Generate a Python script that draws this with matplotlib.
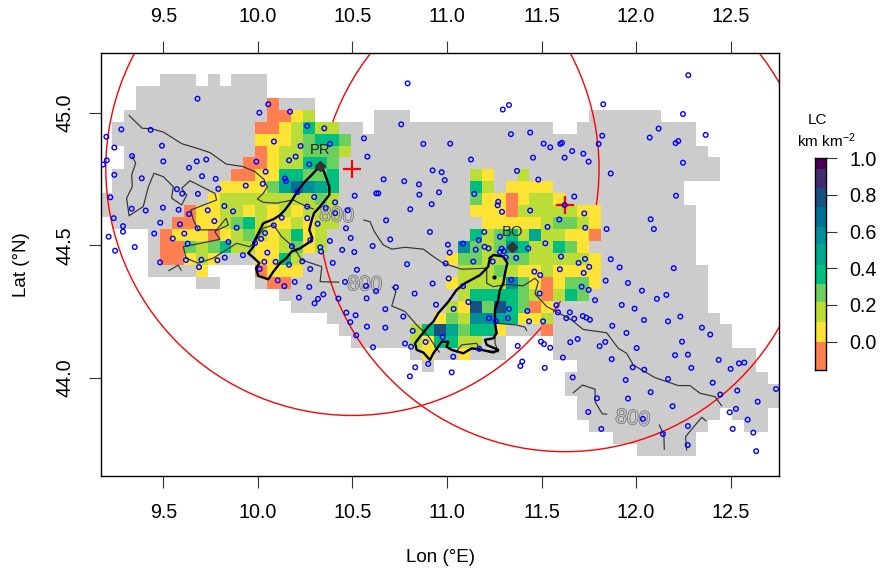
import numpy as np
import matplotlib
matplotlib.use("Agg")
import matplotlib.pyplot as plt
import matplotlib.patheffects as pe
from matplotlib.colors import ListedColormap, BoundaryNorm
from matplotlib.patches import Ellipse

plt.rcParams['font.family'] = ['Liberation Sans', 'DejaVu Sans']
plt.rcParams['mathtext.default'] = 'regular'

# grid of the LC field
grid_lon0, grid_dlon = 9.167, 0.06303
grid_lat0, grid_dlat = 45.1486, 0.04512
n_rows, n_cols = 32, 57

# grey land cells, (first col, last col) per row
land_runs = [
    [(5, 7), (9, 9), (11, 13)], [(3, 13)], [(3, 17)],
    [(2, 17), (23, 25), (41, 46)], [(1, 21), (23, 37), (40, 49)],
    [(1, 49)], [(2, 50)], [(2, 51)], [(1, 51)], [(1, 48)], [(0, 48)],
    [(0, 49)], [(1, 49)], [(4, 49)], [(4, 49)], [(4, 49)],
    [(4, 8), (13, 50)], [(8, 9), (13, 50)], [(15, 50)], [(16, 50)],
    [(19, 51)], [(20, 52)], [(21, 33), (38, 52)], [(26, 33), (38, 54)],
    [(27, 27), (40, 54)], [(39, 55)], [(39, 56)], [(40, 56)],
    [(40, 51), (53, 55)], [(41, 50), (54, 55)], [(43, 49)], [(45, 49)],
]

# colour class of each LC cell: (row, first col, classes)
lc_cells = [
    (2, 14, "0"), (3, 14, "0012"), (4, 13, "0012422"), (5, 13, "11123443"),
    (6, 13, "01223332"), (7, 12, "00122443"), (8, 11, "001144334"),
    (8, 31, "21"), (8, 35, "2"), (9, 10, "1111357654"), (9, 31, "42"),
    (9, 34, "1111"), (10, 9, "12222222232"), (10, 31, "31101221"),
    (11, 7, "0112212121222"), (11, 31, "11102222211"),
    (12, 6, "00112342112122"), (12, 32, "1111123321"),
    (13, 5, "01110123212412"), (13, 31, "42342522110"),
    (14, 5, "00323422112312"), (14, 30, "63236422431"),
    (15, 5, "00121"), (15, 13, "1142"), (15, 29, "1332233222221"),
    (16, 8, "1"), (16, 13, "0111"), (16, 30, "222321121111"),
    (17, 14, "00"), (17, 29, "1222263101331"), (18, 30, "24444320243"),
    (19, 29, "218384301"), (20, 28, "1326654112"), (21, 26, "24853441"),
    (21, 37, "0"), (22, 26, "214422"), (23, 27, "1"), (23, 30, "1"),
]

lc_breaks = [-0.155, 0.0, 0.107, 0.216, 0.315, 0.42, 0.53, 0.627, 0.733, 0.84, 0.94, 1.0]
lc_colors = ["#FF7F50", "#FDE333", "#BBDD38", "#6CD05E", "#00BE7D", "#00A890",
             "#008E98", "#007094", "#185086", "#422C70", "#4B0055"]

# rain gauges
station_lon = [
    9.199, 9.278, 9.433, 9.493, 9.241, 9.335, 9.201, 9.181, 9.500, 9.677, 9.241, 9.636, 9.386, 9.572,
    9.600, 9.220, 9.683, 9.333, 9.407, 9.498, 9.581, 9.238, 9.636, 9.287, 9.287, 9.484, 9.588, 9.682,
    9.211, 9.452, 9.611, 9.550, 9.629, 9.349, 9.245, 9.483, 9.620, 9.681, 10.055, 10.008, 10.170, 10.261,
    10.351, 10.085, 10.226, 10.381, 10.561, 10.579, 9.992, 10.165, 10.200, 10.272, 9.727, 9.705, 9.777,
    10.041, 10.143, 10.149, 9.936, 10.026, 9.791, 10.209, 10.298, 10.408, 10.512, 10.626, 10.637, 10.665,
    10.261, 10.359, 10.475, 10.409, 9.823, 9.735, 9.869, 10.126, 10.261, 10.678, 9.770, 10.316, 10.084,
    9.888, 10.466, 10.038, 10.017, 10.491, 10.700, 9.844, 9.985, 10.381, 10.277, 10.607, 10.180, 10.330,
    10.334, 10.446, 10.510, 10.050, 9.921, 9.825, 9.786, 9.701, 10.034, 10.094, 10.165, 10.235, 10.396,
    9.689, 10.010, 10.277, 10.524, 10.105, 10.195, 10.140, 10.272, 10.461, 10.572, 10.730, 10.346, 10.625,
    10.217, 10.318, 10.575, 10.426, 10.300, 10.789, 10.829, 10.674, 10.468, 10.517, 10.769, 10.489, 10.577,
    10.674, 10.819, 10.520, 10.609, 10.778, 10.810, 10.887, 10.901, 10.832, 10.804, 10.774, 10.852, 10.988,
    10.924, 10.972, 10.854, 10.958, 10.919, 10.806, 10.910, 11.005, 11.085, 11.014, 10.993, 11.009, 10.924,
    11.085, 11.127, 11.455, 11.622, 11.662, 11.721, 11.749, 11.866, 11.370, 11.483, 11.144, 11.271, 11.268,
    11.291, 11.440, 11.673, 11.622, 11.726, 11.594, 11.532, 11.731, 11.844, 11.197, 11.280, 11.168, 11.520,
    11.199, 11.220, 11.152, 11.289, 11.300, 11.280, 11.430, 11.139, 11.242, 11.310, 11.366, 11.603, 11.730,
    11.696, 11.866, 11.752, 11.913, 11.597, 11.462, 11.493, 11.723, 11.839, 11.957, 11.340, 11.712, 11.749,
    11.490, 11.783, 11.924, 11.113, 10.942, 11.035, 11.328, 11.425, 11.579, 11.587, 11.650, 11.718, 11.737,
    11.756, 11.631, 11.673, 11.222, 11.258, 11.323, 11.434, 11.508, 11.874, 11.949, 10.977, 11.171, 11.497,
    11.513, 11.546, 11.374, 11.652, 11.691, 11.837, 11.807, 11.613, 11.871, 11.398, 11.388, 11.517, 11.033,
    11.025, 11.665, 10.792, 11.328, 11.295, 10.758, 10.875, 11.017, 11.338, 11.440, 11.511, 11.546, 11.599,
    11.608, 11.802, 12.276, 11.826, 12.248, 12.119, 12.072, 11.821, 12.223, 12.209, 12.368, 12.248, 12.211,
    12.077, 12.094, 12.199, 12.031, 12.160, 12.110, 11.992, 12.042, 12.169, 12.234, 12.348, 12.392, 12.243,
    12.003, 12.206, 12.274, 12.437, 12.544, 12.572, 12.500, 12.292, 11.982, 12.043, 11.945, 12.169, 12.405,
    12.535, 12.740, 12.077, 12.445, 11.793, 11.957, 12.643, 12.193, 12.528, 12.495, 11.747, 12.036, 12.590,
    12.274, 11.816, 12.511, 12.620, 12.142, 12.273, 12.635,
]
station_lat = [
    44.911, 44.939, 44.937, 44.877, 44.870, 44.838, 44.822, 44.806, 44.818, 44.818, 44.767, 44.794, 44.754, 44.713,
    44.696, 44.682, 44.695, 44.639, 44.632, 44.643, 44.635, 44.603, 44.619, 44.573, 44.552, 44.586, 44.580, 44.565,
    44.533, 44.545, 44.545, 44.526, 44.507, 44.494, 44.480, 44.436, 44.445, 45.055, 45.034, 45.002, 45.006, 44.952,
    44.943, 44.893, 44.876, 44.884, 44.905, 44.836, 44.817, 44.822, 44.836, 44.807, 44.825, 44.762, 44.752,
    44.779, 44.753, 44.743, 44.726, 44.733, 44.714, 44.702, 44.683, 44.663, 44.688, 44.697, 44.697, 44.750,
    44.647, 44.642, 44.633, 44.622, 44.649, 44.633, 44.629, 44.605, 44.603, 44.595, 44.592, 44.582, 44.576,
    44.567, 44.565, 44.547, 44.525, 44.528, 44.523, 44.513, 44.509, 44.517, 44.520, 44.498, 44.497, 44.493,
    44.477, 44.483, 44.475, 44.473, 44.463, 44.454, 44.444, 44.446, 44.438, 44.438, 44.427, 44.440, 44.434,
    44.418, 44.411, 44.411, 44.408, 44.368, 44.362, 44.346, 44.343, 44.362, 44.347, 44.342, 44.315, 44.327,
    44.303, 44.298, 44.300, 44.299, 44.281, 44.429, 44.318, 44.259, 44.246, 44.236, 44.231, 44.210, 44.193,
    44.189, 44.177, 44.160, 44.115, 44.129, 44.117, 44.135, 44.052, 44.039, 44.005, 44.743, 44.731, 44.747,
    44.784, 44.777, 44.692, 44.701, 44.656, 44.637, 44.551, 44.503, 44.507, 44.473, 44.432, 44.375, 44.356,
    44.346, 44.825, 44.832, 44.832, 44.857, 44.847, 44.817, 44.772, 44.782, 44.749, 44.695, 44.665, 44.652,
    44.627, 44.632, 44.685, 44.653, 44.621, 44.598, 44.570, 44.567, 44.562, 44.551, 44.533, 44.520, 44.508,
    44.495, 44.489, 44.484, 44.488, 44.478, 44.475, 44.489, 44.439, 44.439, 44.455, 44.453, 44.458, 44.449,
    44.434, 44.448, 44.419, 44.417, 44.410, 44.401, 44.388, 44.396, 44.367, 44.358, 44.370, 44.344, 44.332,
    44.318, 44.293, 44.275, 44.286, 44.276, 44.260, 44.260, 44.252, 44.274, 44.247, 44.247, 44.233, 44.227,
    44.219, 44.225, 44.223, 44.225, 44.214, 44.225, 44.213, 44.213, 44.196, 44.169, 44.153, 44.109, 44.136,
    44.127, 44.113, 44.120, 44.134, 44.146, 44.135, 44.119, 44.076, 44.070, 44.061, 44.044, 44.037, 44.079,
    44.020, 44.001, 45.113, 45.031, 45.014, 44.958, 44.884, 44.885, 44.921, 44.927, 44.885, 44.871, 44.884,
    44.888, 44.884, 45.144, 45.034, 44.997, 44.942, 44.908, 44.915, 44.895, 44.887, 44.918, 44.813, 44.688,
    44.599, 44.562, 44.414, 44.329, 44.313, 44.298, 44.261, 44.218, 44.213, 44.231, 44.189, 44.163, 44.136,
    44.112, 44.085, 44.087, 44.067, 44.054, 44.057, 44.033, 44.037, 44.039, 44.030, 43.991, 43.995, 43.981,
    43.951, 43.957, 43.945, 43.936, 43.922, 43.921, 43.909, 43.892, 43.882, 43.869, 43.870, 43.844, 43.841,
    43.817, 43.806, 43.806, 43.792, 43.787, 43.745, 43.722,
]

# basin outlines
pr_lon = [10.330, 10.350, 10.378, 10.378, 10.329, 10.297, 10.285, 10.272, 10.288, 10.276, 10.223, 10.179,
          10.152, 10.117, 10.082, 10.055, 10.002, 9.990, 10.008, 9.980, 9.949, 9.976, 9.985, 10.002, 10.029,
          10.082, 10.117, 10.143, 10.170, 10.187, 10.214, 10.249, 10.285, 10.330]
pr_lat = [44.802, 44.779, 44.722, 44.691, 44.647, 44.622, 44.596, 44.559, 44.527, 44.514, 44.489, 44.477,
          44.452, 44.433, 44.401, 44.372, 44.385, 44.414, 44.433, 44.452, 44.471, 44.495, 44.521, 44.546, 44.584,
          44.599, 44.615, 44.634, 44.660, 44.679, 44.710, 44.741, 44.767, 44.802]
bo_lon = [11.227, 11.245, 11.298, 11.319, 11.307, 11.298, 11.280, 11.271, 11.254, 11.254, 11.263, 11.245,
          11.201, 11.210, 11.271, 11.245, 11.183, 11.131, 11.086, 11.025, 10.998, 11.007, 10.972, 10.928,
          10.910, 10.875, 10.840, 10.831, 10.857, 10.901, 10.928, 10.954, 11.007, 11.051, 11.095, 11.175,
          11.218, 11.227]
bo_lat = [44.452, 44.464, 44.458, 44.433, 44.395, 44.357, 44.332, 44.294, 44.256, 44.206, 44.168, 44.149,
          44.143, 44.124, 44.105, 44.095, 44.105, 44.111, 44.092, 44.105, 44.117, 44.136, 44.136, 44.092,
          44.067, 44.095, 44.105, 44.130, 44.155, 44.193, 44.212, 44.244, 44.287, 44.332, 44.357, 44.388,
          44.420, 44.452]

# 800 m contour pieces
contour_a1_lon = [9.320, 9.389, 9.433, 9.500, 9.597, 9.694, 9.747, 9.832, 9.923, 9.985, 10.032, 10.050, 10.029,
                  9.997, 10.029, 10.100, 10.187, 10.240, 10.293]
contour_a1_lat = [44.991, 44.943, 44.942, 44.929, 44.885, 44.864, 44.851, 44.808, 44.798, 44.779, 44.750, 44.722,
                  44.697, 44.676, 44.663, 44.660, 44.672, 44.653, 44.638]
contour_a2_lon = [10.561, 10.593, 10.616, 10.663, 10.708, 10.778, 10.875, 10.928, 10.980, 11.078, 11.210, 11.210,
                  11.245, 11.324, 11.403, 11.465, 11.483, 11.465, 11.527, 11.562, 11.659, 11.721, 11.844, 11.906,
                  11.950, 11.985, 12.100, 12.223, 12.285, 12.338, 12.417, 12.452]
contour_a2_lat = [44.596, 44.590, 44.552, 44.502, 44.486, 44.493, 44.486, 44.458, 44.433, 44.410, 44.414, 44.357,
                  44.344, 44.353, 44.347, 44.376, 44.363, 44.317, 44.269, 44.256, 44.218, 44.182, 44.170, 44.111,
                  44.092, 44.048, 44.000, 43.970, 43.970, 43.941, 43.928, 43.894]
contour_b_lon = [9.335, 9.354, 9.333, 9.336, 9.306, 9.319, 9.394, 9.421, 9.451, 9.500, 9.553, 9.544, 9.597, 9.624,
                 9.597, 9.641, 9.773, 9.782, 9.645, 9.659, 9.685, 9.791, 9.844, 9.832, 9.773, 9.800, 9.606, 9.620,
                 9.685, 9.764, 9.888, 9.958, 9.985, 10.029, 10.082, 10.126, 10.187, 10.232, 10.338, 10.329, 10.427]
contour_b_lat = [44.838, 44.811, 44.767, 44.722, 44.679, 44.612, 44.647, 44.722, 44.773, 44.760, 44.722, 44.679,
                 44.653, 44.691, 44.716, 44.745, 44.697, 44.672, 44.634, 44.596, 44.559, 44.559, 44.578, 44.603,
                 44.551, 44.523, 44.495, 44.452, 44.433, 44.452, 44.508, 44.495, 44.514, 44.565, 44.578, 44.533,
                 44.495, 44.445, 44.420, 44.363, 44.361]
contour_c_lon = [10.711, 10.730, 10.708, 10.778, 10.840, 10.900, 10.959]
contour_c_lat = [44.342, 44.325, 44.271, 44.250, 44.199, 44.158, 44.097]
contour_d1_lon = [11.271, 11.254, 11.254, 11.369, 11.412, 11.421]
contour_d1_lat = [44.098, 44.130, 44.206, 44.199, 44.191, 44.178]
contour_d2_lon = [11.048, 11.078, 11.157, 11.175, 11.271]
contour_d2_lat = [44.098, 44.124, 44.130, 44.105, 44.098]
contour_e_lon = [11.668, 11.717, 11.783, 11.783, 11.821, 11.844]
contour_e_lat = [43.943, 43.972, 43.956, 43.909, 43.863, 43.862]
contour_f_lon = [12.123, 12.147, 12.149]
contour_f_lat = [43.821, 43.783, 43.729]
contour_g_lon = [12.267, 12.262, 12.347, 12.369]
contour_g_lat = [43.727, 43.777, 43.850, 43.837]
contour_h_lon = [9.530, 9.579, 9.594]
contour_h_lat = [44.405, 44.426, 44.407]

label_lon = [10.418, 10.566, 11.983]
label_lat = [44.612, 44.351, 43.844]
label_rot = [-4, -2, -6]

# radar sites and their range
radar_lon = [10.50, 11.624]
radar_lat = [44.79, 44.653]
radar_rlon, radar_rlat = 1.304, 0.933

# basin outlets
site_lon = [10.330, 11.345]
site_lat = [44.802, 44.494]
site_names = ["PR", "BO"]

# put the cells on the grid
land = np.full((n_rows, n_cols), np.nan)
for j, runs in enumerate(land_runs):
    for first, last in runs:
        land[j, first:last + 1] = 1
lc_mids = 0.5 * (np.array(lc_breaks[:-1]) + np.array(lc_breaks[1:]))
lc = np.full((n_rows, n_cols), np.nan)
for j, first, classes in lc_cells:
    for i, c in enumerate(classes):
        lc[j, first + i] = lc_mids[int(c)]

lon_edges = grid_lon0 + grid_dlon * np.arange(n_cols + 1)
lat_edges = grid_lat0 - grid_dlat * np.arange(n_rows + 1)

cmap = ListedColormap(lc_colors)
norm = BoundaryNorm(lc_breaks, cmap.N)

fig = plt.figure(figsize=(8.8, 5.71), dpi=100)
ax = fig.add_axes([100.7 / 880, 1 - 476 / 571, (778.5 - 100.7) / 880, (476 - 52.7) / 571])

ax.pcolormesh(lon_edges, lat_edges, land, cmap=ListedColormap(["#CCCCCC"]), zorder=1)
for x0, y0 in zip(radar_lon, radar_lat):
    ax.add_patch(Ellipse((x0, y0), 2 * radar_rlon, 2 * radar_rlat, fill=False, ec="#FF0000", lw=1.0, zorder=2))
ax.pcolormesh(lon_edges, lat_edges, lc, cmap=cmap, norm=norm, zorder=3)

contours = [(contour_a1_lon, contour_a1_lat), (contour_a2_lon, contour_a2_lat), (contour_b_lon, contour_b_lat),
            (contour_c_lon, contour_c_lat), (contour_d1_lon, contour_d1_lat), (contour_d2_lon, contour_d2_lat),
            (contour_e_lon, contour_e_lat), (contour_f_lon, contour_f_lat), (contour_g_lon, contour_g_lat),
            (contour_h_lon, contour_h_lat)]
for xs, ys in contours:
    ax.plot(xs, ys, color="#333333", lw=0.85, zorder=4)
for x0, y0, r in zip(label_lon, label_lat, label_rot):
    ax.text(x0, y0, "800", fontsize=15, color="#C2C2C2", rotation=r, ha="center", va="center", zorder=4,
            path_effects=[pe.Stroke(linewidth=0.9, foreground="#666666"), pe.Normal()])

ax.plot(pr_lon, pr_lat, color="black", lw=1.7, zorder=5)
ax.plot(bo_lon, bo_lat, color="black", lw=1.7, zorder=5)
ax.plot([11.249], [44.382], "o", color="black", ms=2, zorder=5)

ax.plot(radar_lon, radar_lat, "+", color="#FF0000", ms=12.5, mew=1.6, zorder=6)
ax.scatter(station_lon, station_lat, s=11, facecolors="none", edgecolors="#0000FF", linewidths=1.0, zorder=7)

ax.plot(site_lon, site_lat, "D", color="#333333", ms=5.6, zorder=8)
for x0, y0, name in zip(site_lon, site_lat, site_names):
    ax.annotate(name, (x0, y0), xytext=(0, 6), textcoords="offset points", ha="center", va="bottom",
                fontsize=10.7, color="#222222", zorder=8)

ax.set_xlim(9.169, 12.753)
ax.set_ylim(43.628, 45.229)
ax.set_xticks([9.5, 10.0, 10.5, 11.0, 11.5, 12.0, 12.5])
ax.set_yticks([44.0, 44.5, 45.0])
ax.tick_params(axis="x", top=True, labeltop=True, length=8.6, width=0.8, pad=10.5, labelsize=14.2, color="#333333")
ax.tick_params(axis="y", length=8.6, width=0.8, pad=10.5, labelsize=14.2, color="#333333")
for lab in ax.get_yticklabels():
    lab.set_rotation(90)
    lab.set_va("center")
for s in ax.spines.values():
    s.set_linewidth(1.0)
fig.text(440 / 880, 1 - 557 / 571, "Lon (°E)", fontsize=13.5, ha="center", va="center")
fig.text(22 / 880, 1 - 265 / 571, "Lat (°N)", fontsize=13.5, rotation=90, ha="center", va="center")

# colour key
cax = fig.add_axes([815.3 / 880, 1 - 370 / 571, 10.4 / 880, (370 - 158.3) / 571])
cax.pcolormesh([0, 1], lc_breaks, np.arange(len(lc_colors)).reshape(-1, 1), cmap=cmap, vmin=-0.5, vmax=10.5)
cax.set_xticks([])
cax.set_ylim(lc_breaks[0], lc_breaks[-1])
cax.yaxis.tick_right()
cax.set_yticks([0.0, 0.2, 0.4, 0.6, 0.8, 1.0])
cax.set_yticklabels(["0.0", "0.2", "0.4", "0.6", "0.8", "1.0"])
cax.tick_params(axis="y", length=8.2, width=0.8, pad=9, labelsize=14.2, color="#333333")
for s in cax.spines.values():
    s.set_linewidth(1.0)
fig.text(817 / 880, 1 - 120 / 571, "LC", fontsize=11, ha="center", va="center")
fig.text(826 / 880, 1 - 141 / 571, "km km$^{-2}$", fontsize=11, ha="center", va="center")

plt.savefig("out.png", dpi=100)
